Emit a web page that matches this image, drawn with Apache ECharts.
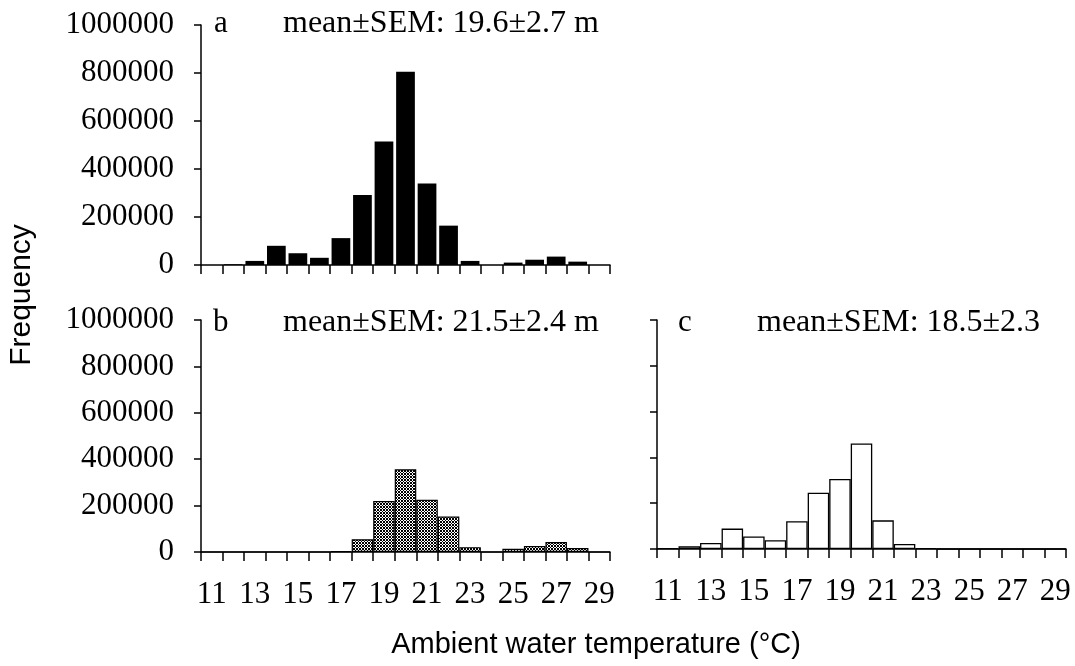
<!DOCTYPE html>
<html><head><meta charset="utf-8">
<script src="https://cdn.jsdelivr.net/npm/echarts@6/dist/echarts.min.js"></script>
<style>html,body{margin:0;padding:0;background:#fff}#c{width:1075px;height:666px}</style>
</head><body><div id="c"></div>
<script>
const categories = ['11','12','13','14','15','16','17','18','19','20','21','22','23','24','25','26','27','28','29'];
const panelA = [0, 3000, 17000, 80000, 49000, 30000, 112000, 292000, 515000, 805000, 340000, 164000, 17000, 0, 10000, 22000, 35000, 14000, 0];
const panelB = [0, 0, 0, 0, 0, 0, 4000, 55000, 220000, 357000, 225000, 153000, 21000, 0, 14000, 26000, 43000, 17000, 0];
const panelC = [3000, 12000, 26000, 89000, 55000, 38000, 121000, 246000, 306000, 461000, 125000, 22000, 3000, 0, 0, 0, 0, 0, 0];
const yTicks = { min: 0, max: 1000000, interval: 200000 };
const panelLetters = ['a', 'b', 'c'];
const panelStats = ['mean±SEM: 19.6±2.7 m', 'mean±SEM: 21.5±2.4 m', 'mean±SEM: 18.5±2.3'];
const yTitle = 'Frequency';
const xTitle = 'Ambient water temperature (°C)';

const SERIF = '"Liberation Serif", "Times New Roman", serif';
const SANS = '"Liberation Sans", Arial, sans-serif';

// checker pattern for panel b
const pc = document.createElement('canvas');
pc.width = 3; pc.height = 3;
const pctx = pc.getContext('2d');
pctx.fillStyle = '#fff'; pctx.fillRect(0, 0, 3, 3);
pctx.fillStyle = '#000';
pctx.fillRect(0, 0, 1, 1); pctx.fillRect(2, 0, 1, 1); pctx.fillRect(1, 1, 1, 1); pctx.fillRect(0, 2, 1, 1); pctx.fillRect(2, 2, 1, 1);

const chart = echarts.init(document.getElementById('c'), null, { renderer: 'canvas' });

const grids = [
  { left: 201, top: 25, width: 409, height: 240 },
  { left: 201, top: 320, width: 409, height: 232 },
  { left: 657, top: 320, width: 409, height: 229 }
];

function xAxis(i, showLabels) {
  return {
    type: 'category', gridIndex: i, data: categories, boundaryGap: true,
    axisLine: { lineStyle: { color: '#000', width: 1.5 } },
    axisTick: { show: true, interval: 0, length: 9, lineStyle: { color: '#000', width: 1.5 } },
    axisLabel: { show: showLabels, interval: 1, fontFamily: SERIF, fontSize: 31, color: '#000', margin: 27 },
    splitLine: { show: false }
  };
}
function yAxis(i, showLabels) {
  return {
    type: 'value', gridIndex: i, min: yTicks.min, max: yTicks.max, interval: yTicks.interval,
    axisLine: { show: true, lineStyle: { color: '#000', width: 1.5 } },
    axisTick: { show: true, length: 7, lineStyle: { color: '#000', width: 1.5 } },
    axisLabel: { show: showLabels, fontFamily: SERIF, fontSize: 31, color: '#000', margin: 27, formatter: v => String(v) },
    splitLine: { show: false }
  };
}

const textY = [24, 323, 323];
const letterX = [214, 213, 678];
const statX = [283, 283, 757];
const graphics = [];
for (let i = 0; i < 3; i++) {
  graphics.push({ type: 'text', x: letterX[i], y: textY[i], style: { text: panelLetters[i], font: '31px ' + SERIF, fill: '#000', verticalAlign: 'middle' } });
  graphics.push({ type: 'text', x: statX[i], y: textY[i], style: { text: panelStats[i], font: '32px ' + SERIF, fill: '#000', verticalAlign: 'middle' } });
}
graphics.push({ type: 'text', x: 22, y: 295, rotation: Math.PI / 2, style: { text: yTitle, font: '30px ' + SANS, fill: '#000', align: 'center', verticalAlign: 'middle' } });
graphics.push({ type: 'text', x: 596, y: 645, style: { text: xTitle, font: '29px ' + SANS, fill: '#000', align: 'center', verticalAlign: 'middle' } });

chart.setOption({
  animation: false,
  backgroundColor: '#fff',
  grid: grids,
  xAxis: [xAxis(0, false), xAxis(1, true), xAxis(2, true)],
  yAxis: [yAxis(0, true), yAxis(1, true), yAxis(2, false)],
  series: [
    { type: 'bar', xAxisIndex: 0, yAxisIndex: 0, data: panelA, barWidth: '87%', itemStyle: { color: '#000' } },
    { type: 'bar', xAxisIndex: 1, yAxisIndex: 1, data: panelB, barWidth: '100%', itemStyle: { color: { image: pc, repeat: 'repeat' }, borderColor: '#000', borderWidth: 1.2 } },
    { type: 'bar', xAxisIndex: 2, yAxisIndex: 2, data: panelC, barWidth: '100%', itemStyle: { color: '#fff', borderColor: '#000', borderWidth: 1.3 } }
  ],
  graphic: graphics
});
</script>
</body></html>
